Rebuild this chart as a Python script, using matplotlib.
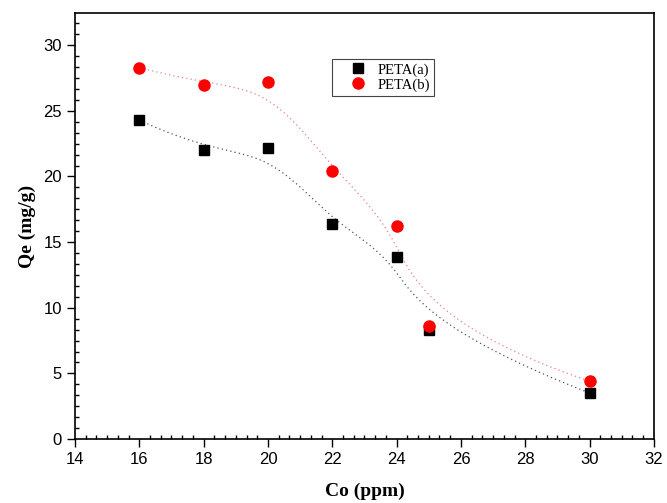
import numpy as np
import matplotlib
matplotlib.use("Agg")
import matplotlib.pyplot as plt
from matplotlib.ticker import MultipleLocator, AutoMinorLocator

# data
co = [16, 18, 20, 22, 24, 25, 30]
qe_a = [24.3, 22.0, 22.2, 16.4, 13.9, 8.3, 3.5]
qe_b = [28.3, 27.0, 27.2, 20.4, 16.2, 8.6, 4.4]


def bspline(x, y, n=300):
    # clamped cubic B-spline using the points as control points
    P = np.column_stack([x, y]).astype(float)
    k = 3
    m = len(P)
    inner = np.linspace(0, 1, m - k + 1)
    t = np.concatenate([[0] * k, inner, [1] * k])
    u = np.linspace(0, 1 - 1e-9, n)

    def basis(i, p, uu):
        if p == 0:
            return ((t[i] <= uu) & (uu < t[i + 1])).astype(float)
        out = np.zeros_like(uu)
        d1 = t[i + p] - t[i]
        d2 = t[i + p + 1] - t[i + 1]
        if d1 > 0:
            out += (uu - t[i]) / d1 * basis(i, p - 1, uu)
        if d2 > 0:
            out += (t[i + p + 1] - uu) / d2 * basis(i + 1, p - 1, uu)
        return out

    B = np.array([basis(i, k, u) for i in range(m)])
    C = B.T @ P
    return C[:, 0], C[:, 1]


fig = plt.figure(figsize=(6.67, 5.03), dpi=100)
ax = fig.add_axes([0.1124, 0.1272, 0.868, 0.8468])

xa, ya = bspline(co, qe_a)
xb, yb = bspline(co, qe_b)
ax.plot(xa, ya, color="#555555", lw=0.9, ls=(0, (1, 2.5)))
ax.plot(xb, yb, color="#f08080", lw=0.9, ls=(0, (1, 2.5)))

ax.plot(co, qe_a, "s", color="black", ms=7, ls="none", label="PETA(a)")
ax.plot(co, qe_b, "o", color="red", ms=8, ls="none", label="PETA(b)")

ax.set_xlim(14, 32)
ax.set_ylim(0, 32.45)
ax.xaxis.set_major_locator(MultipleLocator(2))
ax.yaxis.set_major_locator(MultipleLocator(5))
ax.xaxis.set_minor_locator(AutoMinorLocator(6))
ax.yaxis.set_minor_locator(AutoMinorLocator(6))
ax.tick_params(which="major", direction="out", length=6, width=1,
               labelsize=12, top=False, right=False)
ax.tick_params(which="minor", direction="in", length=3, width=1,
               top=False, right=False)
for lab in ax.get_xticklabels() + ax.get_yticklabels():
    lab.set_fontfamily("Liberation Sans")
for s in ax.spines.values():
    s.set_linewidth(1.2)

ax.set_xlabel("Co (ppm)", fontfamily="Liberation Serif", fontweight="bold",
              fontsize=14, labelpad=11)
ax.set_ylabel("Qe (mg/g)", fontfamily="Liberation Serif", fontweight="bold",
              fontsize=14, labelpad=5)

leg = ax.legend(loc="upper left", bbox_to_anchor=(0.444, 0.893),
                borderaxespad=0,
                prop={"family": "Liberation Serif", "size": 10.5},
                fancybox=False, edgecolor="#444444", framealpha=1,
                handletextpad=-0.2, borderpad=0.3, labelspacing=0.12,
                handlelength=3.0)
leg.get_frame().set_linewidth(0.8)

fig.savefig("out.png", dpi=100)
